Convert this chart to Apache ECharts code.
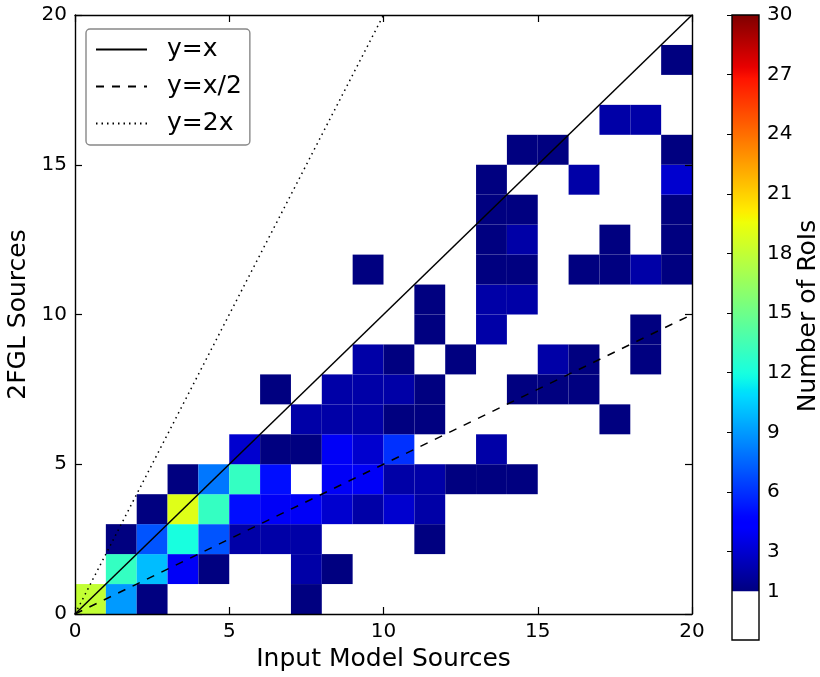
<!DOCTYPE html>
<html><head><meta charset="utf-8">
<script src="https://cdn.jsdelivr.net/npm/echarts@6/dist/echarts.min.js"></script>
<style>html,body{margin:0;padding:0;background:#fff}#c{width:820px;height:677px}</style>
</head><body><div id="c"></div>
<script>
// Axis ticks
const xTicks = [0, 5, 10, 15, 20];
const yTicks = [0, 5, 10, 15, 20];
const cbTicks = [1, 3, 6, 9, 12, 15, 18, 21, 24, 27, 30];
// Heatmap cells per 2FGL-sources row: [input model sources, number of RoIs]
const row0 = [[0,18],[1,9],[2,1],[7,1]];
const row1 = [[1,13],[2,10],[3,4],[4,1],[7,2],[8,1]];
const row2 = [[1,1],[2,7],[3,12],[4,7],[5,2],[6,2],[7,2],[11,1]];
const row3 = [[2,1],[3,19],[4,13],[5,5],[6,4],[7,4],[8,3],[9,2],[10,3],[11,2]];
const row4 = [[3,1],[4,8],[5,13],[6,5],[8,4],[9,4],[10,2],[11,2],[12,1],[13,1],[14,1]];
const row5 = [[5,3],[6,1],[7,1],[8,4],[9,3],[10,6],[13,2]];
const row6 = [[7,2],[8,2],[9,2],[10,1],[11,1],[17,1]];
const row7 = [[6,1],[8,2],[9,2],[10,2],[11,1],[14,1],[15,1],[16,1]];
const row8 = [[9,2],[10,1],[12,1],[15,2],[16,1],[18,1]];
const row9 = [[11,1],[13,2],[18,1]];
const row10 = [[11,1],[13,2],[14,2]];
const row11 = [[9,1],[13,1],[14,1],[16,1],[17,1],[18,2],[19,1]];
const row12 = [[13,1],[14,2],[17,1],[19,1]];
const row13 = [[13,1],[14,1],[19,1]];
const row14 = [[13,1],[16,2],[19,3]];
const row15 = [[14,1],[15,1],[19,1]];
const row16 = [[17,2],[18,2]];
const row17 = [];
const row18 = [[19,1]];
const row19 = [];
// Reference lines
const lineYx = [[0,0],[20,20]];
const lineYHalf = [[0,0],[20,10]];
const lineY2x = [[0,0],[10,20]];
const cbMin = 1, cbMax = 30;

const rows = [row0,row1,row2,row3,row4,row5,row6,row7,row8,row9,row10,row11,row12,row13,row14,row15,row16,row17,row18,row19];
const cells = [];
rows.forEach((r, y) => r.forEach(c => cells.push([c[0], y, c[1]])));

function seg(t, pts){
  for (let i = 0; i < pts.length - 1; i++){
    const a = pts[i], b = pts[i+1];
    if (t <= b[0]) return a[1] + (b[1]-a[1])*(t-a[0])/(b[0]-a[0]);
  }
  return pts[pts.length-1][1];
}
const JR = [[0,0],[0.35,0],[0.66,1],[0.89,1],[1,0.5]];
const JG = [[0,0],[0.125,0],[0.375,1],[0.64,1],[0.91,0],[1,0]];
const JB = [[0,0.5],[0.11,1],[0.34,1],[0.65,0],[1,0]];
function jet(t){
  t = Math.max(0, Math.min(1, t));
  return 'rgb(' + Math.round(255*seg(t,JR)) + ',' + Math.round(255*seg(t,JG)) + ',' + Math.round(255*seg(t,JB)) + ')';
}
const stops = [];
for (let i = 0; i <= 100; i++) stops.push({offset: i/100, color: jet(1 - i/100)});

const FONT = 'DejaVu Sans';
const CB_LOW = -1.45;
const axisCommon = {
  type: 'value', min: 0, max: 20, interval: 5, z: 10,
  axisLine: {show: true, onZero: false, lineStyle: {color: '#000', width: 1.4}},
  axisTick: {show: true, inside: true, length: 7, lineStyle: {color: '#000', width: 1.2}},
  splitLine: {show: false},
  axisLabel: {color: '#000', fontSize: 20, fontFamily: FONT, margin: 8}
};

const chart = echarts.init(document.getElementById('c'), null, {renderer: 'canvas'});
chart.setOption({
  animation: false,
  backgroundColor: '#fff',
  grid: [
    {left: 75, top: 15, width: 617, height: 599, containLabel: false, outerBoundsMode: 'none'},
    {left: 732, top: 15, width: 27, height: 625, containLabel: false, outerBoundsMode: 'none'}
  ],
  legend: {
    left: 86, top: 29, orient: 'vertical',
    padding: [8, 8, 9, 9],
    itemWidth: 51, itemHeight: 14, itemGap: 12,
    backgroundColor: '#fff', borderColor: '#888', borderWidth: 1.4, borderRadius: 4,
    itemStyle: {opacity: 0},
    textStyle: {fontFamily: FONT, fontSize: 25, color: '#000', padding: [0, 0, 0, 15]},
    data: ['y=x', 'y=x/2', 'y=2x']
  },
  xAxis: [
    Object.assign({}, axisCommon, {gridIndex: 0, position: 'bottom',
      name: 'Input Model Sources', nameLocation: 'middle', nameGap: 33,
      nameTextStyle: {fontFamily: FONT, fontSize: 25, color: '#000'}}),
    Object.assign({}, axisCommon, {gridIndex: 0, position: 'top', axisLabel: {show: false}}),
    {type: 'value', gridIndex: 1, min: 0, max: 1, show: false}
  ],
  yAxis: [
    Object.assign({}, axisCommon, {gridIndex: 0, position: 'left',
      name: '2FGL Sources', nameLocation: 'middle', nameGap: 38, nameRotate: 90,
      nameTextStyle: {fontFamily: FONT, fontSize: 25, color: '#000'}}),
    Object.assign({}, axisCommon, {gridIndex: 0, position: 'right', axisLabel: {show: false}}),
    {type: 'value', gridIndex: 1, position: 'right', min: CB_LOW, max: cbMax, z: 10,
      axisLine: {show: false},
      axisTick: {show: true, inside: true, length: 5, customValues: cbTicks.slice(1), lineStyle: {color: '#000', width: 1}},
      axisLabel: {show: true, customValues: cbTicks, color: '#000', fontSize: 20, fontFamily: FONT, margin: 8},
      splitLine: {show: false}}
  ],
  graphic: [{
    type: 'text', x: 808, y: 316, rotation: Math.PI/2,
    style: {text: 'Number of RoIs', fontFamily: FONT, fontSize: 25, fill: '#000', align: 'center', verticalAlign: 'middle'}
  }],
  series: [
    {
      type: 'custom', xAxisIndex: 0, yAxisIndex: 0, z: 1,
      encode: {x: 0, y: 1},
      data: cells,
      renderItem: function(params, api){
        const x = api.value(0), y = api.value(1), v = api.value(2);
        const p0 = api.coord([x, y + 1]);
        const p1 = api.coord([x + 1, y]);
        return {type: 'rect', shape: {x: p0[0], y: p0[1], width: p1[0]-p0[0], height: p1[1]-p0[1]},
          style: {fill: jet((v - cbMin)/(cbMax - cbMin))}};
      }
    },
    {name: 'y=x', type: 'line', data: lineYx, symbol: 'none', z: 5, color: '#000',
      lineStyle: {color: '#000', width: 1.5, type: 'solid'}},
    {name: 'y=x/2', type: 'line', data: lineYHalf, symbol: 'none', z: 5, color: '#000',
      lineStyle: {color: '#000', width: 1.5, type: [8, 8]}},
    {name: 'y=2x', type: 'line', data: lineY2x, symbol: 'none', z: 5, color: '#000',
      lineStyle: {color: '#000', width: 1.5, type: [1.5, 4]}},
    {
      type: 'custom', xAxisIndex: 2, yAxisIndex: 2, z: 1,
      data: [[0, cbMin, cbMax]],
      renderItem: function(params, api){
        const lo = api.value(1), hi = api.value(2);
        const top = api.coord([0, hi]);
        const mid = api.coord([1, lo]);
        const bot = api.coord([1, CB_LOW]);
        return {type: 'group', children: [
          {type: 'rect', shape: {x: top[0], y: top[1], width: mid[0]-top[0], height: mid[1]-top[1]},
            style: {fill: new echarts.graphic.LinearGradient(0, 0, 0, 1, stops)}},
          {type: 'rect', shape: {x: top[0], y: top[1], width: bot[0]-top[0], height: bot[1]-top[1]},
            style: {fill: 'none', stroke: '#000', lineWidth: 1.4}}
        ]};
      }
    }
  ]
});
</script></body></html>
